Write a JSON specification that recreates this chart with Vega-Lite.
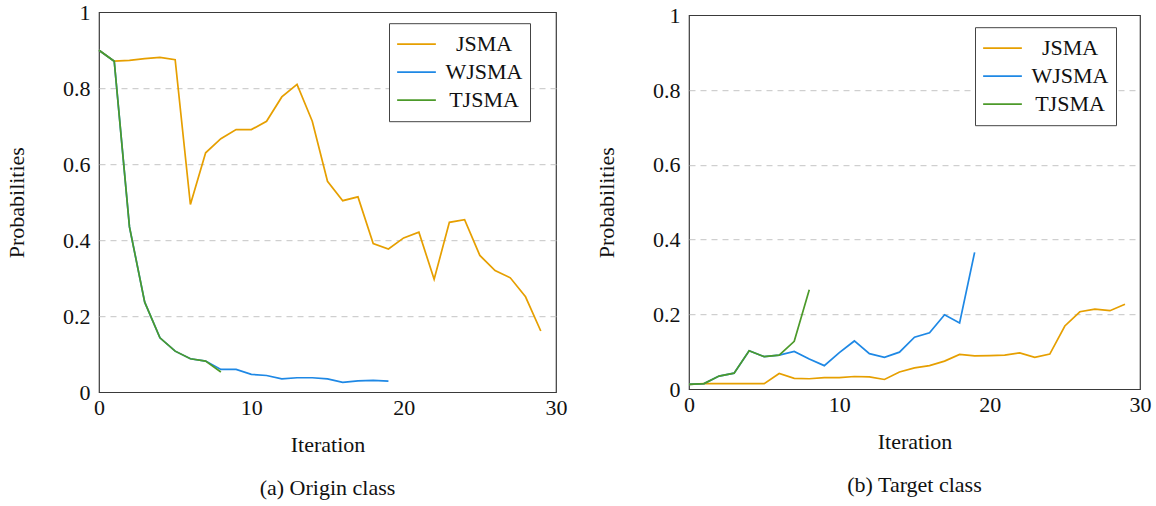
{
  "$schema": "https://vega.github.io/schema/vega-lite/v6.json",
  "background": "white",
  "padding": {"left": 4, "top": 0, "right": 4, "bottom": 2},
  "spacing": 26,
  "center": true,
  "config": {
    "font": "Liberation Serif, Times New Roman, serif",
    "view": {"stroke": "#3a3a3a", "strokeWidth": 1.2},
    "axis": {
      "labelFont": "Liberation Serif, Times New Roman, serif", "titleFont": "Liberation Serif, Times New Roman, serif",
      "labelFontSize": 22, "titleFontSize": 22, "titleFontWeight": "normal",
      "labelColor": "#111", "titleColor": "#111",
      "domain": false, "ticks": false, "labelFlush": false
    },
    "legend": {
      "labelFont": "Liberation Serif, Times New Roman, serif", "labelFontSize": 22, "labelColor": "#111",
      "symbolType": "stroke", "symbolSize": 1500, "symbolStrokeWidth": 1.7,
      "strokeColor": "#444", "fillColor": "white", "padding": 7, "rowPadding": 0, "clipHeight": 28,
      "labelAlign": "center", "labelOffset": 47, "labelLimit": 300
    },
    "title": {"font": "Liberation Serif, Times New Roman, serif", "fontSize": 22, "fontWeight": "normal", "color": "#111"}
  },
  "datasets": {
    "origin": [
      {"method":"JSMA","iteration":0,"probability":0.90},{"method":"JSMA","iteration":1,"probability":0.871},{"method":"JSMA","iteration":2,"probability":0.873},{"method":"JSMA","iteration":3,"probability":0.878},{"method":"JSMA","iteration":4,"probability":0.881},{"method":"JSMA","iteration":5,"probability":0.875},{"method":"JSMA","iteration":6,"probability":0.494},{"method":"JSMA","iteration":7,"probability":0.630},{"method":"JSMA","iteration":8,"probability":0.667},{"method":"JSMA","iteration":9,"probability":0.691},{"method":"JSMA","iteration":10,"probability":0.691},{"method":"JSMA","iteration":11,"probability":0.713},{"method":"JSMA","iteration":12,"probability":0.777},{"method":"JSMA","iteration":13,"probability":0.810},{"method":"JSMA","iteration":14,"probability":0.713},{"method":"JSMA","iteration":15,"probability":0.555},{"method":"JSMA","iteration":16,"probability":0.504},{"method":"JSMA","iteration":17,"probability":0.514},{"method":"JSMA","iteration":18,"probability":0.391},{"method":"JSMA","iteration":19,"probability":0.377},{"method":"JSMA","iteration":20,"probability":0.406},{"method":"JSMA","iteration":21,"probability":0.421},{"method":"JSMA","iteration":22,"probability":0.297},{"method":"JSMA","iteration":23,"probability":0.447},{"method":"JSMA","iteration":24,"probability":0.454},{"method":"JSMA","iteration":25,"probability":0.360},{"method":"JSMA","iteration":26,"probability":0.320},{"method":"JSMA","iteration":27,"probability":0.301},{"method":"JSMA","iteration":28,"probability":0.251},{"method":"JSMA","iteration":29,"probability":0.161},
      {"method":"WJSMA","iteration":0,"probability":0.90},{"method":"WJSMA","iteration":1,"probability":0.871},{"method":"WJSMA","iteration":2,"probability":0.435},{"method":"WJSMA","iteration":3,"probability":0.237},{"method":"WJSMA","iteration":4,"probability":0.143},{"method":"WJSMA","iteration":5,"probability":0.108},{"method":"WJSMA","iteration":6,"probability":0.088},{"method":"WJSMA","iteration":7,"probability":0.082},{"method":"WJSMA","iteration":8,"probability":0.060},{"method":"WJSMA","iteration":9,"probability":0.060},{"method":"WJSMA","iteration":10,"probability":0.047},{"method":"WJSMA","iteration":11,"probability":0.044},{"method":"WJSMA","iteration":12,"probability":0.035},{"method":"WJSMA","iteration":13,"probability":0.038},{"method":"WJSMA","iteration":14,"probability":0.038},{"method":"WJSMA","iteration":15,"probability":0.035},{"method":"WJSMA","iteration":16,"probability":0.026},{"method":"WJSMA","iteration":17,"probability":0.030},{"method":"WJSMA","iteration":18,"probability":0.031},{"method":"WJSMA","iteration":19,"probability":0.029},
      {"method":"TJSMA","iteration":0,"probability":0.90},{"method":"TJSMA","iteration":1,"probability":0.871},{"method":"TJSMA","iteration":2,"probability":0.435},{"method":"TJSMA","iteration":3,"probability":0.237},{"method":"TJSMA","iteration":4,"probability":0.143},{"method":"TJSMA","iteration":5,"probability":0.108},{"method":"TJSMA","iteration":6,"probability":0.088},{"method":"TJSMA","iteration":7,"probability":0.082},{"method":"TJSMA","iteration":8,"probability":0.053}
    ],
    "target": [
      {"method":"JSMA","iteration":0,"probability":0.013},{"method":"JSMA","iteration":1,"probability":0.015},{"method":"JSMA","iteration":2,"probability":0.015},{"method":"JSMA","iteration":3,"probability":0.015},{"method":"JSMA","iteration":4,"probability":0.015},{"method":"JSMA","iteration":5,"probability":0.015},{"method":"JSMA","iteration":6,"probability":0.042},{"method":"JSMA","iteration":7,"probability":0.029},{"method":"JSMA","iteration":8,"probability":0.028},{"method":"JSMA","iteration":9,"probability":0.031},{"method":"JSMA","iteration":10,"probability":0.031},{"method":"JSMA","iteration":11,"probability":0.034},{"method":"JSMA","iteration":12,"probability":0.033},{"method":"JSMA","iteration":13,"probability":0.026},{"method":"JSMA","iteration":14,"probability":0.046},{"method":"JSMA","iteration":15,"probability":0.057},{"method":"JSMA","iteration":16,"probability":0.063},{"method":"JSMA","iteration":17,"probability":0.075},{"method":"JSMA","iteration":18,"probability":0.093},{"method":"JSMA","iteration":19,"probability":0.089},{"method":"JSMA","iteration":20,"probability":0.090},{"method":"JSMA","iteration":21,"probability":0.091},{"method":"JSMA","iteration":22,"probability":0.097},{"method":"JSMA","iteration":23,"probability":0.085},{"method":"JSMA","iteration":24,"probability":0.094},{"method":"JSMA","iteration":25,"probability":0.169},{"method":"JSMA","iteration":26,"probability":0.207},{"method":"JSMA","iteration":27,"probability":0.214},{"method":"JSMA","iteration":28,"probability":0.210},{"method":"JSMA","iteration":29,"probability":0.227},
      {"method":"WJSMA","iteration":0,"probability":0.013},{"method":"WJSMA","iteration":1,"probability":0.015},{"method":"WJSMA","iteration":2,"probability":0.035},{"method":"WJSMA","iteration":3,"probability":0.043},{"method":"WJSMA","iteration":4,"probability":0.103},{"method":"WJSMA","iteration":5,"probability":0.087},{"method":"WJSMA","iteration":6,"probability":0.091},{"method":"WJSMA","iteration":7,"probability":0.101},{"method":"WJSMA","iteration":8,"probability":0.081},{"method":"WJSMA","iteration":9,"probability":0.063},{"method":"WJSMA","iteration":10,"probability":0.098},{"method":"WJSMA","iteration":11,"probability":0.129},{"method":"WJSMA","iteration":12,"probability":0.095},{"method":"WJSMA","iteration":13,"probability":0.085},{"method":"WJSMA","iteration":14,"probability":0.099},{"method":"WJSMA","iteration":15,"probability":0.139},{"method":"WJSMA","iteration":16,"probability":0.151},{"method":"WJSMA","iteration":17,"probability":0.199},{"method":"WJSMA","iteration":18,"probability":0.177},{"method":"WJSMA","iteration":19,"probability":0.366},
      {"method":"TJSMA","iteration":0,"probability":0.013},{"method":"TJSMA","iteration":1,"probability":0.015},{"method":"TJSMA","iteration":2,"probability":0.035},{"method":"TJSMA","iteration":3,"probability":0.043},{"method":"TJSMA","iteration":4,"probability":0.103},{"method":"TJSMA","iteration":5,"probability":0.087},{"method":"TJSMA","iteration":6,"probability":0.091},{"method":"TJSMA","iteration":7,"probability":0.128},{"method":"TJSMA","iteration":8,"probability":0.266}
    ]
  },
  "resolve": {"legend": {"color": "independent"}},
  "hconcat": [
    {
      "width": 457, "height": 380,
      "data": {"name": "origin"},
      "title": {"text": "(a) Origin class", "orient": "bottom", "offset": 23},
      "mark": {"type": "line", "strokeWidth": 1.7},
      "encoding": {
        "x": {"field": "iteration", "type": "quantitative", "scale": {"domain": [0, 30], "nice": false},
              "axis": {"title": "Iteration", "values": [0, 10, 20, 30], "format": "d", "grid": false, "labelPadding": 5, "titlePadding": 16}},
        "y": {"field": "probability", "type": "quantitative", "scale": {"domain": [0, 1], "nice": false},
              "axis": {"title": "Probabilities", "values": [0, 0.2, 0.4, 0.6, 0.8, 1], "format": ".1~f", "grid": true,
                       "gridDash": [6, 5], "gridColor": "#c4c4c4",
                       "gridOpacity": {"condition": {"test": "datum.value == 0 || datum.value == 1", "value": 0}, "value": 1},
                       "labelPadding": 9, "titlePadding": 34}},
        "color": {"field": "method", "type": "nominal",
                  "scale": {"domain": ["JSMA", "WJSMA", "TJSMA"], "range": ["#E69F00", "#1E88E5", "#4C9A2A"]},
                  "legend": {"title": null, "orient": "none", "legendX": 290, "legendY": 11}}
      }
    },
    {
      "width": 451, "height": 374,
      "data": {"name": "target"},
      "title": {"text": "(b) Target class", "orient": "bottom", "offset": 23},
      "mark": {"type": "line", "strokeWidth": 1.7},
      "encoding": {
        "x": {"field": "iteration", "type": "quantitative", "scale": {"domain": [0, 30], "nice": false},
              "axis": {"title": "Iteration", "values": [0, 10, 20, 30], "format": "d", "grid": false, "labelPadding": 5, "titlePadding": 16}},
        "y": {"field": "probability", "type": "quantitative", "scale": {"domain": [0, 1], "nice": false},
              "axis": {"title": "Probabilities", "values": [0, 0.2, 0.4, 0.6, 0.8, 1], "format": ".1~f", "grid": true,
                       "gridDash": [6, 5], "gridColor": "#c4c4c4",
                       "gridOpacity": {"condition": {"test": "datum.value == 0 || datum.value == 1", "value": 0}, "value": 1},
                       "labelPadding": 9, "titlePadding": 34}},
        "color": {"field": "method", "type": "nominal",
                  "scale": {"domain": ["JSMA", "WJSMA", "TJSMA"], "range": ["#E69F00", "#1E88E5", "#4C9A2A"]},
                  "legend": {"title": null, "orient": "none", "legendX": 286, "legendY": 12}}
      }
    }
  ]
}
